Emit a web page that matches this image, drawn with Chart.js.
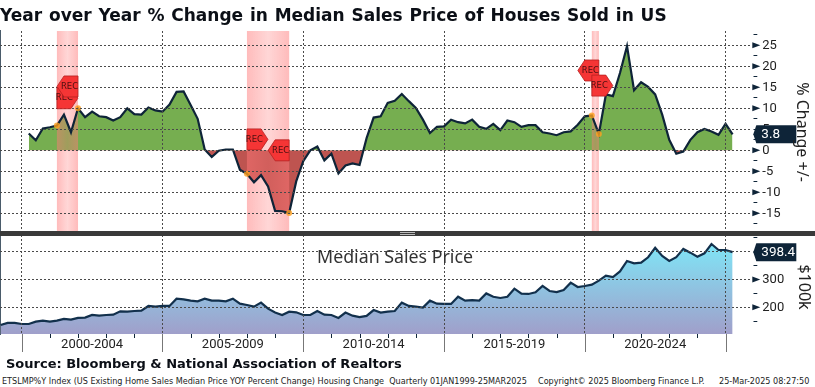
<!DOCTYPE html>
<html><head><meta charset="utf-8">
<script src="https://cdn.jsdelivr.net/npm/chart.js@4"></script>
<style>
html,body{margin:0;padding:0;background:#fff;width:815px;height:387px;overflow:hidden}
#wrap{position:relative;width:815px;height:387px;color:#111}
canvas{position:absolute;left:0}
.t{position:absolute;white-space:pre;line-height:1}
#title{left:0;top:5px;font:bold 17px "DejaVu Sans";word-spacing:.9px;color:#0b0f16}
#source{left:6px;top:356px;font:bold 13px "DejaVu Sans";color:#0b0f16}
.foot{top:376px;font:9px "DejaVu Sans Condensed","DejaVu Sans";font-stretch:condensed;color:#222}
#bar{position:absolute;left:0;top:231px;width:815px;height:4.5px;background:#3a3a3a}
#bar i{position:absolute;left:400px;width:15px;height:1px;background:#bbb}
#msp{left:317px;top:244px;font:17.8px "Noto Sans";color:#333}
.rot{transform:translate(-50%,-50%) rotate(90deg);font:16px "Noto Sans";color:#222}
</style></head><body>
<div id="wrap">
<canvas id="top" width="815" height="232" style="top:0"></canvas>
<canvas id="bottom" width="815" height="125" style="top:235px"></canvas>
<div id="bar"><i style="top:1px"></i><i style="top:3px"></i></div>
<div class="t" id="title">Year over Year % Change in Median Sales Price of Houses Sold in US</div>
<div class="t" id="msp">Median Sales Price</div>
<div class="t rot" style="left:803px;top:132px">% Change +/-</div>
<div class="t rot" style="left:805px;top:287px">$100k</div>
<div class="t" id="source">Source: Bloomberg &amp; National Association of Realtors</div>
<div class="t foot" style="left:2px">ETSLMP%Y Index (US Existing Home Sales Median Price YOY Percent Change) Housing Change  Quarterly 01JAN1999-25MAR2025</div>
<div class="t foot" style="left:538px">Copyright© 2025 Bloomberg Finance L.P.</div>
<div class="t foot" style="left:719px">25-Mar-2025 08:27:50</div>
</div>
<script>
const periodLabels = ["2000-2004","2005-2009","2010-2014","2015-2019","2020-2024"];
// Quarterly series; medianPrice starts Q1 1999, yoyChange starts Q1 2000 (4 quarters later)
const yoyStartQuarter = 4;
const yoyChange = [4.0,2.4,5.2,5.5,5.9,8.5,4.3,10,7.9,9.2,8.1,7.9,7.1,7.9,10,8.6,8.5,10.2,9.5,9.2,10.9,13.9,14,10.8,7.5,0.2,-1.6,-0.1,0.2,0.2,-4.6,-5.6,-7.6,-5.9,-8.6,-14.4,-14.5,-14.9,
 -7.4,-2.6,0,0.9,-2.4,-0.8,-5.5,-3.6,-3.1,-3.5,2.9,7.8,8.1,11.3,11.8,13.4,11.7,10.1,7.3,4.1,5.6,5.7,7.3,6.7,6.4,7.3,5.6,5.1,6.3,4.8,7.1,6.7,5.6,6,6,4.3,4,
 3.6,4.3,4.5,6.1,8.1,8.3,3.9,13.3,12.9,18.4,24.8,14.3,16.2,15.1,13.3,8.5,2.5,-0.8,-0.3,2.5,4.3,5.1,4.5,3.7,6.3,3.8];
const medianPrice = [136.5,143.7,143.7,140,140,148.5,152,148.5,152,158,155.7,161.7,163,172.4,170,172.4,173.6,185.6,184.4,186.8,188,204.8,202.4,204.8,204.8,231,228.8,224,221.6,231,224,224,221.6,231,213,208.4,202.4,216.8,195,181,172.4,184.4,182,172.4,172.4,186.8,173.6,172.4,161.7,181,170,165,169,190,181,184.4,186.8,216.8,
 204.8,202.4,199,224,213,212,212,238,224,226,224,250,238,233.5,238,267,249,248,254,276.7,258.7,255,262,288.7,273,276.7,281.5,296,314,309,329,366.5,358,360.5,380,414,384.5,366.5,380,410,396.5,382,394,427.6,406,406,398.4];
// recession start / end quarter (index from Q1 1999)
const recessions = [[8,11],[35,41],[84,85]];
// REC flags: quarter index, value level, direction
const recFlags = [
 {q:8, v:12.4, dir:"right"},{q:11,v:15.2,dir:"left"},
 {q:35,v:2.6, dir:"right"},{q:41,v:0,  dir:"left"},
 {q:85,v:19,  dir:"left"},{q:84,v:15.4,dir:"right"}];

const NAVY="#0e2438", GRID="#4a4a4a";
const xMin=-0.085, xMax=106.8;
const FIRST=3, YEAR=4, FIVE=20;
const isFive=v=>(v-FIRST)%FIVE===0;
const yearTicks=[];for(let q=FIRST;q<xMax;q+=YEAR)yearTicks.push(q);
const labelTicks=periodLabels.map((_,i)=>FIRST+FIVE*i+FIVE/2);

function triangle(c,x,y){c.fillStyle=NAVY;c.beginPath();c.moveTo(x,y-3);c.lineTo(x+8,y);c.lineTo(x,y+3);c.closePath();c.fill();}
function valueTag(chart,val,txt){
  const y=chart.scales.y.getPixelForValue(val),x=chart.scales.y.left,c=chart.ctx;
  c.save();c.fillStyle=NAVY;c.beginPath();c.moveTo(x+1,y);c.lineTo(x+4,y-9);c.lineTo(x+44,y-9);c.lineTo(x+44,y+9);c.lineTo(x+4,y+9);c.closePath();c.fill();
  c.fillStyle="#fff";c.font='13.5px Roboto';c.textAlign="left";c.textBaseline="middle";c.fillText(txt,x+9,y+.5);c.restore();
}
const axisMarks=(major,val,txt)=>({id:"marks",afterDraw(chart){
  const s=chart.scales.y,c=chart.ctx;c.save();
  for(const t of s.ticks){if(t.value%major===0&&Math.abs(t.value-val)>major/4)triangle(c,s.left,s.getPixelForValue(t.value));}
  c.restore();valueTag(chart,val,txt);
}});

const topOverlay={id:"topOverlay",
 afterDatasetDraw(chart,args){
  if(args.index!==2)return;
  const xs=chart.scales.x,a=chart.chartArea,c=chart.ctx;c.save();
  for(const [s,e] of recessions){
    const x0=xs.getPixelForValue(s),x1=xs.getPixelForValue(e);
    const g=c.createLinearGradient(x0,0,x1,0);
    g.addColorStop(0,"rgba(255,120,120,.5)");g.addColorStop(.5,"rgba(255,120,120,.3)");g.addColorStop(1,"rgba(255,120,120,.5)");
    c.fillStyle=g;c.fillRect(x0,a.top,x1-x0,a.bottom-a.top);
  }
  c.restore();
 },
 afterDraw(chart){
  const xs=chart.scales.x,ys=chart.scales.y,c=chart.ctx;c.save();
  const W=21,H=21,CUT=7;
  for(const f of recFlags){
    const x=xs.getPixelForValue(f.q),y=ys.getPixelForValue(f.v);
    const L=f.dir==="left";
    c.beginPath();
    if(L){c.moveTo(x-W,y);c.lineTo(x-W+CUT,y-H/2);c.lineTo(x,y-H/2);c.lineTo(x,y+H/2);c.lineTo(x-W+CUT,y+H/2);}
    else{c.moveTo(x,y-H/2);c.lineTo(x+W-CUT,y-H/2);c.lineTo(x+W,y);c.lineTo(x+W-CUT,y+H/2);c.lineTo(x,y+H/2);}
    c.closePath();c.fillStyle="#f53535";c.fill();c.strokeStyle="#b52020";c.lineWidth=.8;c.stroke();
    c.fillStyle="#4a1010";c.font='8.5px "DejaVu Sans"';c.textAlign="center";c.textBaseline="middle";
    c.fillText("REC",x+(L?-W/2+2:W/2-3),y);
  }
  c.restore();
 }};

const bottomTicks={id:"bottomTicks",afterDraw(chart){
  const xs=chart.scales.x,b=chart.chartArea.bottom,c=chart.ctx;c.save();
  for(const q of yearTicks){
    const x=Math.round(xs.getPixelForValue(q))+.5;c.beginPath();
    if(isFive(q)){c.strokeStyle="#777";c.moveTo(x,b);c.lineTo(x,b+18);}
    else{c.strokeStyle=NAVY;c.moveTo(x,b);c.lineTo(x,b+4);}
    c.stroke();
  }
  c.restore();
}};

const noPad=s=>{s.paddingLeft=s.paddingRight=s.paddingTop=s.paddingBottom=0;};
const xScale=(withLabels)=>({type:"linear",min:xMin,max:xMax,
  afterBuildTicks(s){s.ticks=(withLabels?yearTicks.concat(labelTicks):yearTicks.filter(isFive)).sort((a,b)=>a-b).map(v=>({value:v}));},
  afterFit(s){s.height=withLabels?26:0;noPad(s);},
  grid:{z:1,drawTicks:false,color:c=>c.tick&&isFive(c.tick.value)?GRID:"rgba(0,0,0,0)"},
  border:withLabels?{display:true,color:NAVY,width:1.5,dash:[2,2]}:{display:false,dash:[2,2]},
  ticks:{display:withLabels,autoSkip:false,maxRotation:0,padding:3,color:"#222",font:{family:"Roboto",size:13},
    callback:v=>{const i=labelTicks.indexOf(v);return i>=0?periodLabels[i]:"";}}
});
const yScale=(min,max,step,major)=>({type:"linear",position:"right",min,max,
  afterFit(s){s.width=62.7;noPad(s);},
  grid:{z:1,tickLength:5,tickColor:NAVY,color:c=>c.tick&&c.tick.value%major===0?GRID:"rgba(0,0,0,0)"},
  border:{color:NAVY,width:1.5,dash:[2,2]},
  ticks:{stepSize:step,includeBounds:false,autoSkip:false,padding:5,color:"#222",font:{family:"Roboto",size:13},
    callback:v=>v%major===0?String(v):""}
});
const base={responsive:false,animation:false,devicePixelRatio:1,events:[],
  plugins:{legend:{display:false},tooltip:{enabled:false}}};

const yoyPts=yoyChange.map((y,i)=>({x:i+yoyStartQuarter,y}));
const dotPts=recessions.flat().map(q=>({x:q,y:yoyChange[q-yoyStartQuarter]}));
new Chart(document.getElementById("top"),{type:"line",
 data:{datasets:[
  {data:dotPts,showLine:false,pointRadius:3,pointBorderWidth:0,pointBackgroundColor:"rgba(255,160,30,.8)"},
  {data:yoyPts,borderColor:NAVY,borderWidth:2.2,pointRadius:0,tension:0,fill:false},
  {data:yoyPts,borderWidth:0,pointRadius:0,tension:0,fill:{target:{value:0},above:"#76AE50",below:"#BE5450"}}
 ]},
 options:{...base,layout:{autoPadding:false,padding:{top:31,bottom:1,left:0,right:0}},
  scales:{x:xScale(false),y:yScale(-19.2,28.4,2.5,5)}},
 plugins:[topOverlay,axisMarks(5,yoyChange[yoyChange.length-1],yoyChange[yoyChange.length-1].toFixed(1))]
});
new Chart(document.getElementById("bottom"),{type:"line",
 data:{datasets:[
  {data:medianPrice.map((y,i)=>({x:i,y})),borderColor:"#12304c",borderWidth:2.2,pointRadius:0,tension:0,fill:"start",
   backgroundColor:ctx=>{const ch=ctx.chart;if(!ch.chartArea)return "#90b0d8";
     const g=ch.ctx.createLinearGradient(0,ch.chartArea.top+8,0,ch.chartArea.bottom);
     g.addColorStop(0,"#7FE6F7");g.addColorStop(1,"#A09FCA");return g;}}
 ]},
 options:{...base,layout:{autoPadding:false,padding:{top:0,bottom:0,left:0,right:0}},
  scales:{x:xScale(true),y:yScale(104,460,50,100)}},
 plugins:[bottomTicks,axisMarks(100,medianPrice[medianPrice.length-1],medianPrice[medianPrice.length-1].toFixed(1))]
});
</script>
</body></html>
